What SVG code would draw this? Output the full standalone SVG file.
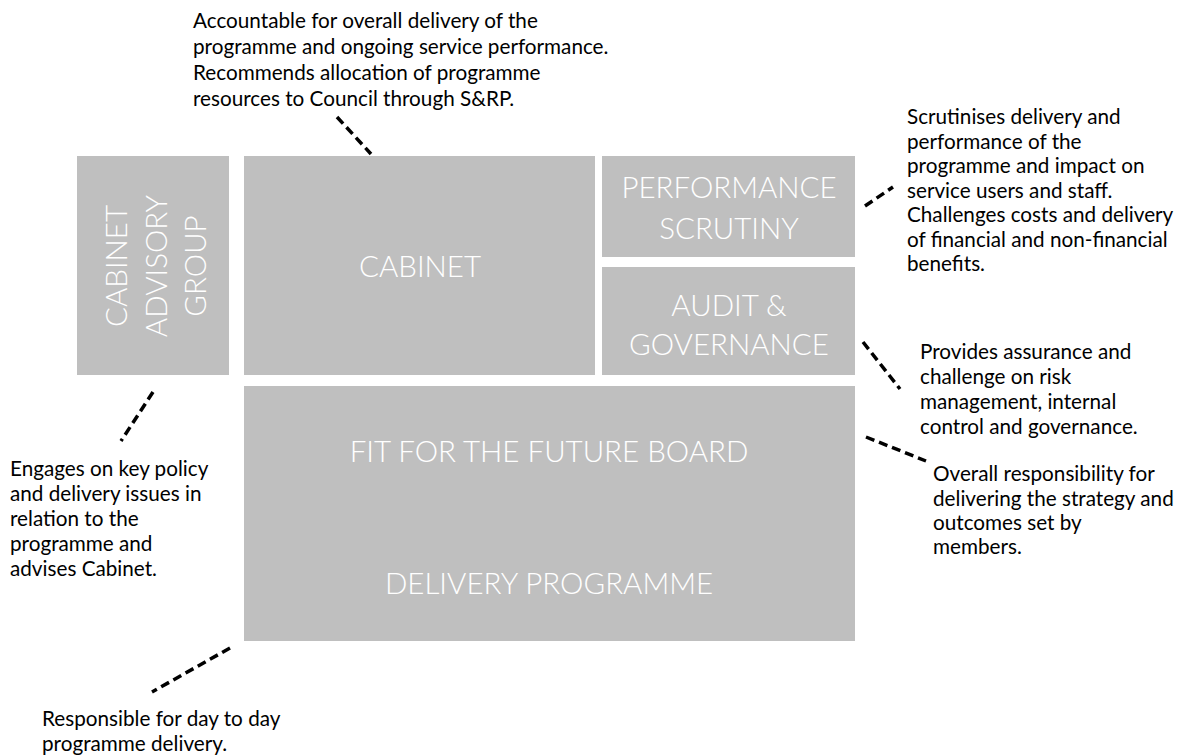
<svg xmlns="http://www.w3.org/2000/svg" width="1190" height="755" viewBox="0 0 1190 755">
<style>
.box{fill:#bfbfbf}
.lbl{font-family:Lato,"Open Sans","Liberation Sans",sans-serif;font-weight:300;font-size:29.5px;fill:#ffffff;text-anchor:middle}
.note{font-family:Lato,"Open Sans","Liberation Sans",sans-serif;font-size:20.7px;fill:#000000}
.con{stroke:#000000;stroke-width:3.5;stroke-dasharray:9 5;fill:none}
</style>
<rect width="1190" height="755" fill="#ffffff"/>
<g id="cabinet-advisory-group">
<rect class="box" x="77" y="156" width="152" height="219"/>
<g transform="translate(0,266) rotate(-90)">
<text class="lbl" x="0" y="127">CABINET</text>
<text class="lbl" x="0" y="167">ADVISORY</text>
<text class="lbl" x="0" y="206">GROUP</text>
</g>
</g>
<g id="cabinet">
<rect class="box" x="244" y="156" width="351" height="219"/>
<text class="lbl" x="420" y="277">CABINET</text>
</g>
<g id="performance-scrutiny">
<rect class="box" x="602" y="156" width="253" height="101"/>
<text class="lbl" x="729" y="198">PERFORMANCE</text>
<text class="lbl" x="729" y="239">SCRUTINY</text>
</g>
<g id="audit-governance">
<rect class="box" x="602" y="267" width="253" height="108"/>
<text class="lbl" x="729" y="316">AUDIT &amp;</text>
<text class="lbl" x="729" y="355">GOVERNANCE</text>
</g>
<g id="fit-for-the-future-board">
<rect class="box" x="244" y="386" width="611" height="255"/>
<text class="lbl" x="549" y="462">FIT FOR THE FUTURE BOARD</text>
<text class="lbl" x="549" y="594">DELIVERY PROGRAMME</text>
</g>
<g id="connectors">
<line class="con" x1="337" y1="117" x2="371" y2="154"/>
<line class="con" x1="865" y1="206" x2="893" y2="187"/>
<line class="con" x1="863" y1="342" x2="900" y2="389"/>
<line class="con" x1="866" y1="437" x2="926" y2="461"/>
<line class="con" x1="153" y1="392" x2="121" y2="441"/>
<line class="con" x1="230" y1="648" x2="152" y2="692"/>
</g>
<g id="notes">
<text class="note" x="193" y="28">Accountable for overall delivery of the</text>
<text class="note" x="193" y="54">programme and ongoing service performance.</text>
<text class="note" x="193" y="80">Recommends allocation of programme</text>
<text class="note" x="193" y="106">resources to Council through S&amp;RP.</text>
<text class="note" x="907" y="124">Scrutinises delivery and</text>
<text class="note" x="907" y="148.5">performance of the</text>
<text class="note" x="907" y="173">programme and impact on</text>
<text class="note" x="907" y="197.5">service users and staff.</text>
<text class="note" x="907" y="222">Challenges costs and delivery</text>
<text class="note" x="907" y="246.5">of financial and non-financial</text>
<text class="note" x="907" y="271">benefits.</text>
<text class="note" x="920" y="359">Provides assurance and</text>
<text class="note" x="920" y="384">challenge on risk</text>
<text class="note" x="920" y="409">management, internal</text>
<text class="note" x="920" y="434">control and governance.</text>
<text class="note" x="933" y="481">Overall responsibility for</text>
<text class="note" x="933" y="506">delivering the strategy and</text>
<text class="note" x="933" y="530">outcomes set by</text>
<text class="note" x="933" y="554">members.</text>
<text class="note" x="10" y="476">Engages on key policy</text>
<text class="note" x="10" y="501">and delivery issues in</text>
<text class="note" x="10" y="526">relation to the</text>
<text class="note" x="10" y="551">programme and</text>
<text class="note" x="10" y="576">advises Cabinet.</text>
<text class="note" x="42" y="726">Responsible for day to day</text>
<text class="note" x="42" y="751">programme delivery.</text>
</g>
</svg>
